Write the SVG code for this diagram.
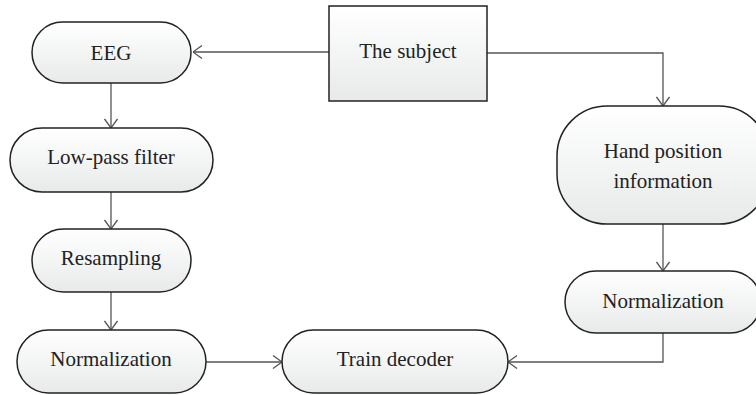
<svg xmlns="http://www.w3.org/2000/svg" width="756" height="395" viewBox="0 0 756 395">
<defs>
<linearGradient id="g" x1="0" y1="0" x2="0" y2="1">
<stop offset="0" stop-color="#ffffff"/>
<stop offset="1" stop-color="#e8eaea"/>
</linearGradient>
<marker id="a" viewBox="0 0 10 14" refX="10" refY="7" markerWidth="10" markerHeight="14" markerUnits="userSpaceOnUse" orient="auto">
<path d="M1,0.5 L10,7 L1,13.5" fill="none" stroke="#555" stroke-width="1.3"/>
</marker>
<style>
.n{fill:url(#g);stroke:#222;stroke-width:1.5}
.t{font-family:"Liberation Serif",serif;font-size:21px;fill:#222;text-anchor:middle}
.c{fill:none;stroke:#555;stroke-width:1.3;marker-end:url(#a)}
</style>
</defs>
<g id="connectors">
<path class="c" d="M329,52 H193"/>
<path class="c" d="M487,53 H663 V106"/>
<path class="c" d="M111,83 V128"/>
<path class="c" d="M111,192 V229"/>
<path class="c" d="M111,292 V330"/>
<path class="c" d="M206,362 H282"/>
<path class="c" d="M663,224 V271"/>
<path class="c" d="M663,333 V362 H508"/>
</g>
<g id="subject"><rect class="n" x="329" y="6" width="158" height="95"/><text class="t" x="408" y="58">The subject</text></g>
<g id="eeg"><rect class="n" x="32" y="22" width="159" height="61" rx="30.5"/><text class="t" x="111" y="60">EEG</text></g>
<g id="lowpass"><rect class="n" x="10" y="128" width="203" height="64" rx="32"/><text class="t" x="111" y="164">Low-pass filter</text></g>
<g id="resampling"><rect class="n" x="32" y="229" width="159" height="63" rx="31.5"/><text class="t" x="111" y="265">Resampling</text></g>
<g id="norm-left"><rect class="n" x="17" y="330" width="189" height="63" rx="31.5"/><text class="t" x="111" y="366">Normalization</text></g>
<g id="train"><rect class="n" x="282" y="330" width="226" height="63" rx="31.5"/><text class="t" x="395" y="366">Train decoder</text></g>
<g id="hand"><rect class="n" x="557" y="106" width="212" height="118" rx="50" ry="50"/><text class="t" x="663" y="158">Hand position</text><text class="t" x="663" y="188">information</text></g>
<g id="norm-right"><rect class="n" x="565" y="271" width="196" height="62" rx="31"/><text class="t" x="663" y="308">Normalization</text></g>
</svg>
